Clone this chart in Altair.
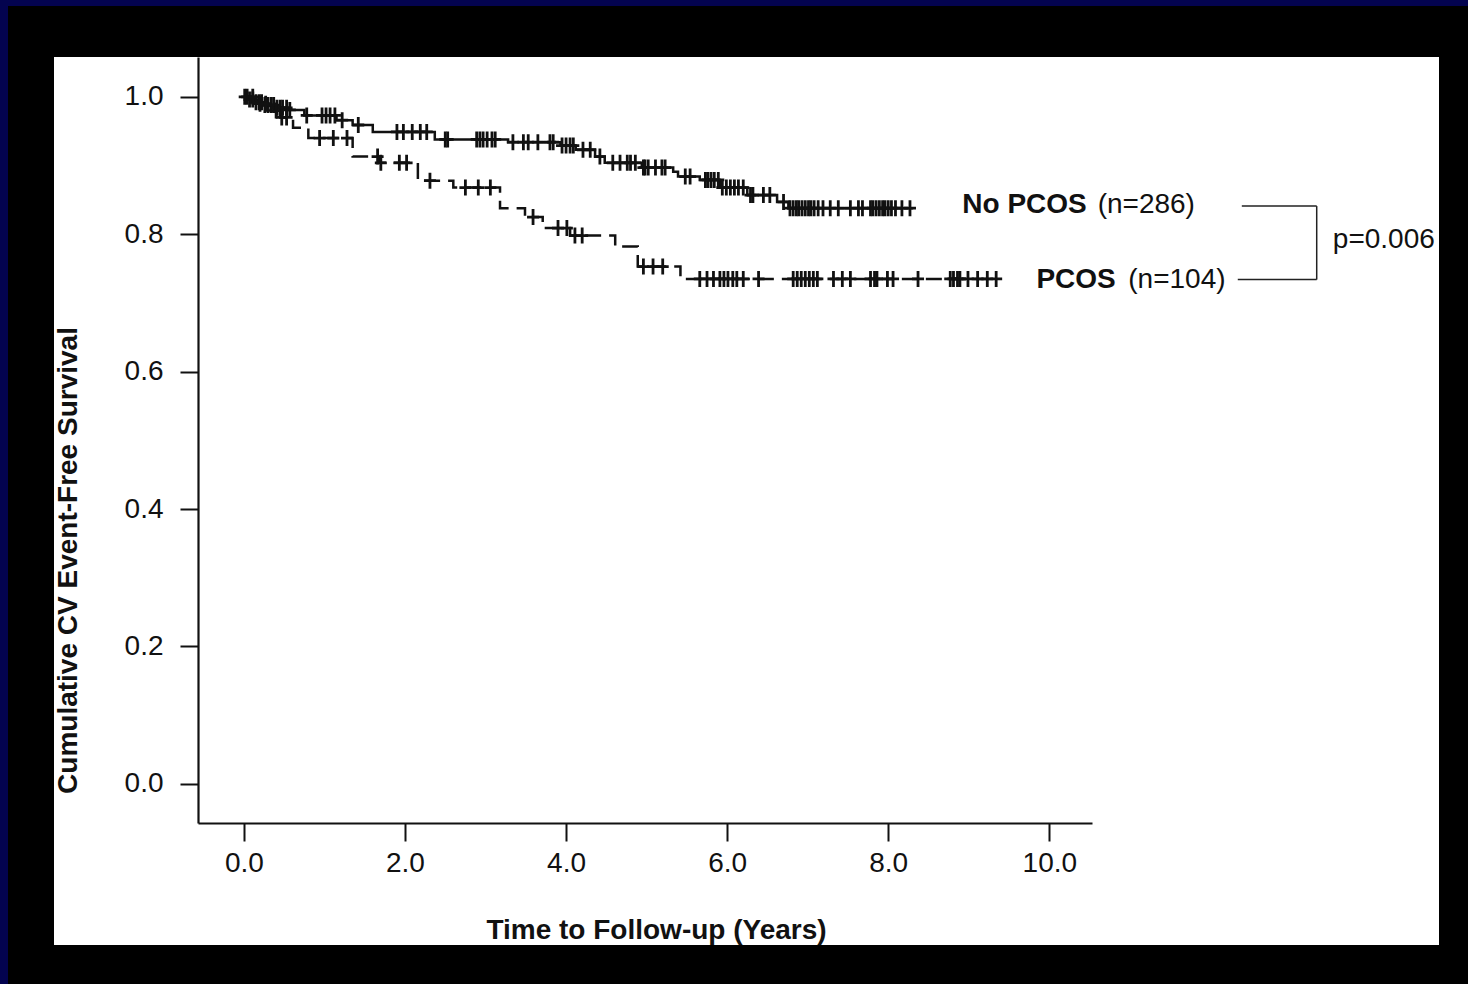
import altair as alt
import pandas as pd
import numpy as np

# ---- Kaplan-Meier step data (time in years, cumulative event-free survival) ----
nopcos_t = [0.0, 0.06, 0.15, 0.25, 0.38, 0.55, 0.75, 1.15, 1.35, 1.60, 2.37, 3.28,
            3.93, 4.12, 4.36, 4.48, 4.94, 5.33, 5.39, 5.66, 5.91, 6.25, 6.62, 6.76, 8.31]
nopcos_s = [1.0, 0.996, 0.992, 0.988, 0.984, 0.981, 0.973, 0.966, 0.959, 0.949, 0.938, 0.934,
            0.929, 0.923, 0.913, 0.904, 0.897, 0.891, 0.884, 0.879, 0.868, 0.857, 0.847, 0.838, 0.838]

pcos_t = [0.0, 0.12, 0.30, 0.45, 0.61, 0.80, 1.35, 1.69, 2.16, 2.60, 3.18, 3.49,
          3.71, 4.05, 4.61, 4.89, 5.42, 9.36]
pcos_s = [1.0, 0.990, 0.980, 0.970, 0.955, 0.940, 0.913, 0.904, 0.878, 0.868, 0.838, 0.825,
          0.809, 0.798, 0.782, 0.753, 0.735, 0.735]

# ---- censored observation times ----
nopcos_cens = [0.01, 0.04, 0.07, 0.11, 0.15, 0.19, 0.22, 0.26, 0.30, 0.34, 0.37, 0.41, 0.45,
               0.48, 0.53, 0.57, 0.78, 0.97, 1.02, 1.07, 1.13, 1.22, 1.42, 1.90, 1.98, 2.09,
               2.19, 2.27, 2.50, 2.53, 2.89, 2.93, 2.97, 3.02, 3.08, 3.12, 3.34, 3.47, 3.53,
               3.65, 3.80, 3.84, 3.95, 4.00, 4.05, 4.09, 4.21, 4.30, 4.42, 4.58, 4.67, 4.76,
               4.80, 4.86, 4.96, 4.98, 5.02, 5.11, 5.19, 5.23, 5.48, 5.54, 5.73, 5.76, 5.80,
               5.84, 5.89, 5.94, 5.99, 6.04, 6.09, 6.14, 6.20, 6.29, 6.32, 6.45, 6.53, 6.70,
               6.78, 6.82, 6.86, 6.89, 6.93, 6.97, 7.01, 7.04, 7.08, 7.13, 7.19, 7.28, 7.38,
               7.53, 7.63, 7.68, 7.78, 7.81, 7.85, 7.89, 7.93, 7.96, 8.00, 8.04, 8.09, 8.17,
               8.27]
pcos_cens = [0.11, 0.20, 0.27, 0.40, 0.47, 0.53, 0.94, 1.11, 1.28, 1.66, 1.70, 1.93, 2.02,
             2.31, 2.75, 2.91, 3.06, 3.59, 3.90, 4.01, 4.11, 4.20, 4.96, 5.08, 5.20, 5.66,
             5.75, 5.83, 5.91, 5.96, 6.01, 6.07, 6.12, 6.20, 6.39, 6.82, 6.87, 6.92, 6.97,
             7.02, 7.07, 7.12, 7.32, 7.43, 7.53, 7.78, 7.83, 7.86, 7.99, 8.06, 8.37, 8.77,
             8.81, 8.86, 8.89, 8.99, 9.11, 9.23, 9.34]

x_ticks = [0, 2, 4, 6, 8, 10]
y_ticks = [0.0, 0.2, 0.4, 0.6, 0.8, 1.0]
group_bold = ["No PCOS", "PCOS"]
group_n = ["(n=286)", "(n=104)"]
p_text = "p=0.006"


def censor_frame(st, ss, cens):
    st = np.asarray(st)
    idx = np.searchsorted(st, np.asarray(cens), side="right") - 1
    return pd.DataFrame({"t": cens, "s": np.asarray(ss)[idx]})


line_no = pd.DataFrame({"t": nopcos_t, "s": nopcos_s})
line_p = pd.DataFrame({"t": pcos_t, "s": pcos_s})
cens_no = censor_frame(nopcos_t, nopcos_s, nopcos_cens)
cens_p = censor_frame(pcos_t, pcos_s, pcos_cens)

FONT = "Liberation Sans"
NAVY = "#03034f"
xs = alt.Scale(domain=[-0.57, 10.53], nice=False, zero=False)
ys = alt.Scale(domain=[-0.057, 1.058], nice=False, zero=False)

x_axis = alt.Axis(values=x_ticks, format=".1f", title="Time to Follow-up (Years)",
                  grid=False, tickSize=18, tickWidth=2, tickColor="#111", domainWidth=2.2,
                  domainColor="#111", labelFont=FONT, labelFontSize=28, labelColor="#111",
                  labelPadding=8, labelFlush=False, labelOverlap=False,
                  titleFont=FONT, titleFontSize=28, titleFontWeight="bold", titleColor="#111",
                  titleX=458, titleY=115, titleBaseline="alphabetic", titleAlign="center",
                  zindex=1)
y_axis = alt.Axis(values=y_ticks, format=".1f", title="Cumulative CV Event-Free Survival",
                  grid=False, tickSize=18, tickWidth=2, tickColor="#111", domainWidth=2.2,
                  domainColor="#111", labelFont=FONT, labelFontSize=28, labelColor="#111",
                  labelPadding=17, labelFlush=False, labelOverlap=False,
                  titleFont=FONT, titleFontSize=28, titleFontWeight="bold", titleColor="#111",
                  titleX=-122, titleY=503, titleAngle=270, titleBaseline="alphabetic",
                  titleAlign="center", zindex=1)

blank = alt.Data(values=[{}])

navy_top = alt.Chart(blank).mark_rect(color=NAVY).encode(
    x=alt.value(-220), x2=alt.value(1320), y=alt.value(-80), y2=alt.value(-51))
navy_left = alt.Chart(blank).mark_rect(color=NAVY).encode(
    x=alt.value(-220), x2=alt.value(-190), y=alt.value(-80), y2=alt.value(980))
white_bg = alt.Chart(blank).mark_rect(color="white").encode(
    x=alt.value(-144), x2=alt.value(1241), y=alt.value(0), y2=alt.value(888))

l_no = alt.Chart(line_no).mark_line(interpolate="step-after", color="#111", strokeWidth=2.5).encode(
    x=alt.X("t:Q", scale=xs, axis=x_axis),
    y=alt.Y("s:Q", scale=ys, axis=y_axis))
l_p = alt.Chart(line_p).mark_line(interpolate="step-after", color="#111", strokeWidth=2.5,
                                  strokeDash=[16, 8]).encode(
    x=alt.X("t:Q", scale=xs), y=alt.Y("s:Q", scale=ys))

CROSS = "M0,-1V1M-0.75,0H0.75"
c_no = alt.Chart(cens_no).mark_point(shape=CROSS, size=256, filled=False, color="#111",
                                     strokeWidth=2.8, opacity=1).encode(
    x=alt.X("t:Q", scale=xs), y=alt.Y("s:Q", scale=ys))
c_p = alt.Chart(cens_p).mark_point(shape=CROSS, size=256, filled=False, color="#111",
                                   strokeWidth=2.8, opacity=1).encode(
    x=alt.X("t:Q", scale=xs), y=alt.Y("s:Q", scale=ys))

def txt(s, xv, yv, bold):
    return alt.Chart(blank).mark_text(text=s, font=FONT, fontSize=28, align="left",
                                      baseline="middle", color="#111",
                                      fontWeight="bold" if bold else "normal").encode(
        x=alt.datum(xv), y=alt.datum(yv))

t1 = txt(group_bold[0], 8.92, 0.843, True)
t2 = txt(group_n[0], 10.60, 0.843, False)
t3 = txt(group_bold[1], 9.84, 0.734, True)
t4 = txt(group_n[1], 10.98, 0.734, False)
t5 = txt(p_text, 13.52, 0.792, False)

def rule(x1, x2, y1, y2):
    return alt.Chart(blank).mark_rule(color="#222", strokeWidth=1.5).encode(
        x=alt.datum(x1), x2=alt.datum(x2), y=alt.datum(y1), y2=alt.datum(y2))

b1 = rule(12.39, 13.32, 0.841, 0.841)
b2 = rule(13.32, 13.32, 0.841, 0.734)
b3 = rule(12.34, 13.32, 0.734, 0.734)

chart = alt.layer(navy_top, navy_left, white_bg, l_no, l_p, c_no, c_p,
                  t1, t2, t3, t4, t5, b1, b2, b3).properties(
    width=894, height=766,
    autosize=alt.AutoSizeParams(type="none"),
    padding={"left": 198, "top": 57, "right": 376, "bottom": 161},
    background="black",
).configure_view(stroke=None)

chart.save("out.html", embed_options={"renderer": "svg", "actions": False})
